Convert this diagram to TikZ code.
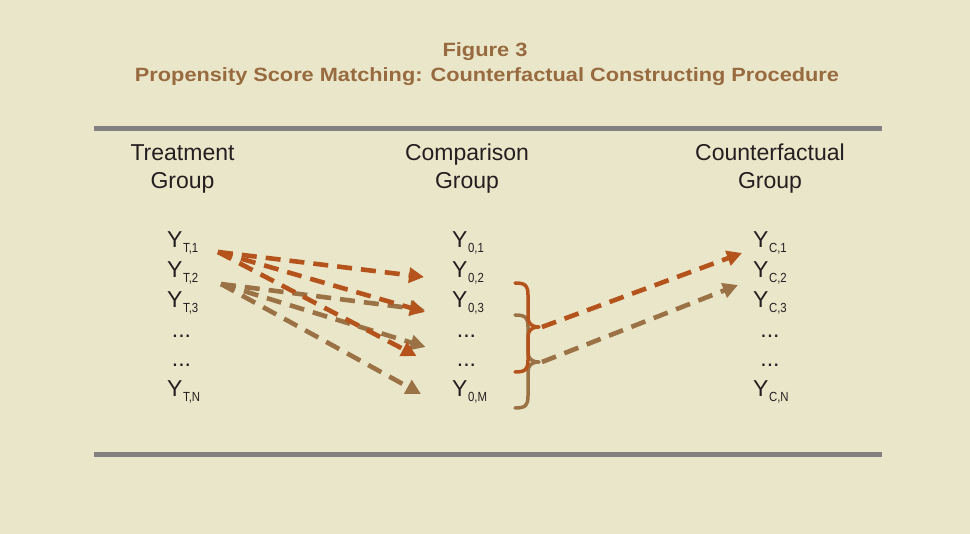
\documentclass[tikz,border=0pt]{standalone}
\usepackage{fontspec}
\setmainfont{Liberation Sans}
\usetikzlibrary{arrows.meta}

\definecolor{paper}{HTML}{EAE6C9}
\definecolor{rust}{HTML}{B4531C}
\definecolor{tan}{HTML}{9A7246}
\definecolor{titlebrown}{HTML}{976A3F}
\definecolor{rulegrey}{HTML}{838082}
\definecolor{ink}{HTML}{231F20}

% outcome symbol with a small lowered index
\newcommand{\ysub}[1]{Y\kern0.5pt\raisebox{-5pt}{\scalebox{0.95}[1.1]{\fontsize{12}{12}\selectfont #1}}}

\tikzset{
  lbl/.style={inner sep=0pt, text=ink, font=\fontsize{23}{28}\selectfont},
  ynode/.style={lbl, anchor=base west},
  dotnode/.style={lbl, anchor=base},
  header/.style={lbl, align=center, anchor=center},
  ttl/.style={inner sep=0pt, text=titlebrown, font=\bfseries\fontsize{19.2}{23}\selectfont, anchor=base},
  link/.style={line width=4.6pt, dash pattern=on 15pt off 9pt,
    -{Triangle[length=15pt,width=15pt]}},
  rustlink/.style={link, draw=rust},
  tanlink/.style={link, draw=tan},
  bracket/.style={line width=3.5pt, line cap=round, line join=round},
  divider/.style={line width=5pt, draw=rulegrey},
}

\begin{document}
\begin{tikzpicture}[x=1pt,y=-1pt]
  \fill[paper] (0,0) rectangle (970,534);
  \useasboundingbox (0,0) rectangle (970,534);

  % title
  \node[ttl] (fig) at (485,57) {\resizebox{85pt}{\height}{Figure 3}};
  \node[ttl] (sub) at (487,82) {\resizebox{704pt}{\height}{Propensity Score Matching: Counterfactual Constructing Procedure}};

  % horizontal rules
  \draw[divider] (94,129) -- (882,129);
  \draw[divider] (94,455) -- (882,455);

  % column headings
  \node[header] (htreat) at (182.5,169) {Treatment\\Group};
  \node[header] (hcomp)  at (467,169) {Comparison\\Group};
  \node[header] (hcount) at (770,169) {Counterfactual\\Group};

  % treatment group
  \node[ynode]   (t1)  at (167,248) {\ysub{T,1}};
  \node[ynode]   (t2)  at (167,278) {\ysub{T,2}};
  \node[ynode]   (t3)  at (167,308) {\ysub{T,3}};
  \node[dotnode] (td1) at (181.5,338) {...};
  \node[dotnode] (td2) at (181.5,367) {...};
  \node[ynode]   (tn)  at (167,397) {\ysub{T,N}};

  % comparison group
  \node[ynode]   (m1)  at (452,248) {\ysub{0,1}};
  \node[ynode]   (m2)  at (452,278) {\ysub{0,2}};
  \node[ynode]   (m3)  at (452,308) {\ysub{0,3}};
  \node[dotnode] (md1) at (466.5,338) {...};
  \node[dotnode] (md2) at (466.5,367) {...};
  \node[ynode]   (mm)  at (452,397) {\ysub{0,M}};

  % counterfactual group
  \node[ynode]   (c1)  at (753,248) {\ysub{C,1}};
  \node[ynode]   (c2)  at (753,278) {\ysub{C,2}};
  \node[ynode]   (c3)  at (753,308) {\ysub{C,3}};
  \node[dotnode] (cd1) at (770,338) {...};
  \node[dotnode] (cd2) at (770,367) {...};
  \node[ynode]   (cn)  at (753,397) {\ysub{C,N}};

  % matches of the second treated unit
  \draw[tanlink] ([shift={(54,6)}]t2.base west) -- ([shift={(-27,2)}]m3.base west);
  \draw[tanlink] ([shift={(54,6)}]t2.base west) -- ([shift={(-41,9)}]md1.base);
  \draw[tanlink] ([shift={(54,6)}]t2.base west) -- ([shift={(-31,-3)}]mm.base west);

  % matches of the first treated unit
  \draw[rustlink] ([shift={(51,4)}]t1.base west) -- ([shift={(-28,-1)}]m2.base west);
  \draw[rustlink] ([shift={(51,4)}]t1.base west) -- ([shift={(-27,4)}]m3.base west);
  \draw[rustlink] ([shift={(51,4)}]t1.base west) -- ([shift={(-50,-11)}]md2.base);

  % braces grouping the matched comparison units
  \draw[bracket, draw=tan] (515,315) .. controls (526,315) and (528,318) .. (528,327)
     -- (528,352) .. controls (528,358) and (531,362) .. (539,362)
     coordinate (tantip)
     .. controls (531,362) and (528,366) .. (528,372)
     -- (528,396) .. controls (528,405) and (526,408) .. (515,408);
  \draw[bracket, draw=rust] (515,283) .. controls (526,283) and (528,286) .. (528,295)
     -- (528,317) .. controls (528,323) and (531,327) .. (539,327)
     coordinate (rusttip)
     .. controls (531,327) and (528,331) .. (528,337)
     -- (528,360) .. controls (528,369) and (526,372) .. (515,372);

  % averaged matches feed the counterfactual outcomes
  \draw[rustlink] ([xshift=3pt]rusttip) -- ([shift={(-11,5)}]c1.base west);
  \draw[tanlink]  ([xshift=3pt]tantip)  -- ([shift={(-15,7)}]c2.base west);
\end{tikzpicture}
\end{document}
